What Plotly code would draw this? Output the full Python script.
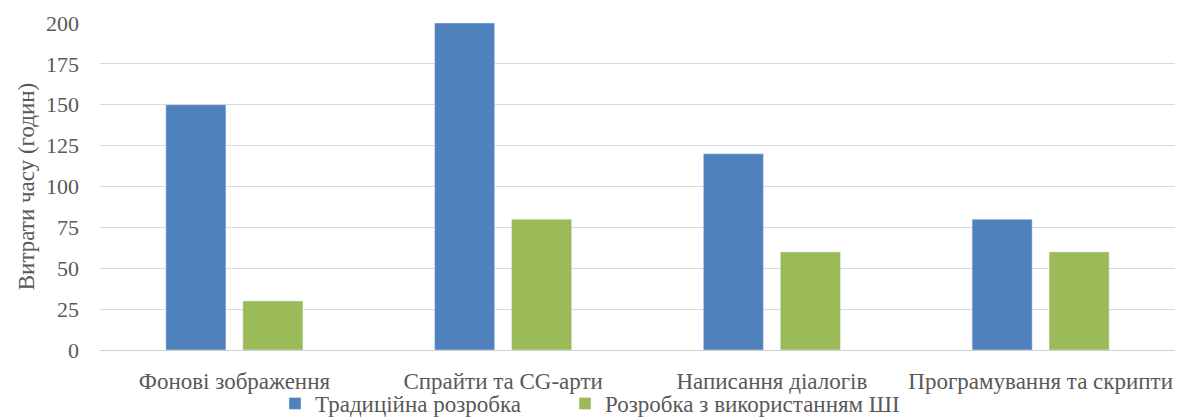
import plotly.graph_objects as go

categories = ["Фонові зображення", "Спрайти та CG-арти", "Написання діалогів", "Програмування та скрипти"]
traditional = [150, 200, 120, 80]
ai_based = [30, 80, 60, 60]
series_names = ["Традиційна розробка", "Розробка з використанням ШІ"]
y_ticks = [0, 25, 50, 75, 100, 125, 150, 175, 200]

font = "Liberation Serif, Times New Roman, serif"
grey = "#595959"

fig = go.Figure()
fig.add_trace(go.Bar(x=categories, y=traditional, name=series_names[0], marker_color="#4F81BD", legend="legend"))
fig.add_trace(go.Bar(x=categories, y=ai_based, name=series_names[1], marker_color="#9BBB59", legend="legend2"))

legend_common = dict(orientation="h", xanchor="left", y=-75 / 327, yanchor="bottom",
                     bgcolor="rgba(0,0,0,0)", font=dict(family=font, size=23, color=grey),
                     itemwidth=30, tracegroupgap=0)

fig.update_layout(
    width=1183, height=420,
    margin=dict(l=100, r=8, t=23, b=70, autoexpand=False),
    paper_bgcolor="white", plot_bgcolor="white",
    barmode="group", bargap=0.427, bargroupgap=0.22,
    font=dict(family=font, size=22, color=grey),
    showlegend=True,
    legend=dict(x=(293 - 18 - 100) / 1075, **legend_common),
    legend2=dict(x=(583 - 18 - 100) / 1075, **legend_common),
)
fig.update_yaxes(range=[0, 200], tickvals=y_ticks, showgrid=True, gridcolor="#D9D9D9",
                 zeroline=False, showline=False, ticks="", ticklen=0, ticklabelstandoff=20,
                 title=dict(text="Витрати часу (годин)", font=dict(family=font, size=23, color=grey), standoff=4),
                 tickfont=dict(family=font, size=22, color=grey))
fig.update_xaxes(showline=True, linecolor="#D0D0D0", ticks="", ticklabelstandoff=10,
                 tickfont=dict(family=font, size=23, color=grey))

fig.write_html("out.html")
